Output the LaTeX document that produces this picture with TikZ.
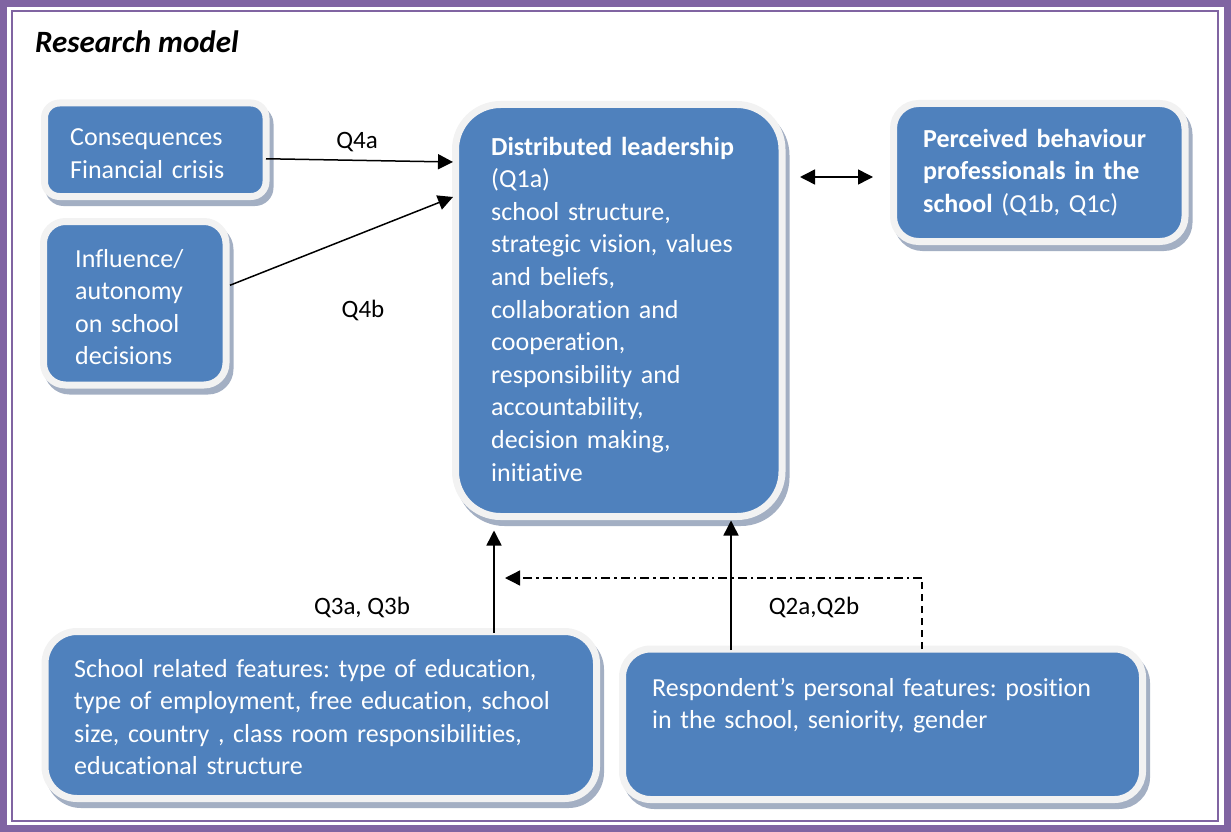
\documentclass[tikz,border=0pt]{standalone}
\usepackage{fontspec}
\setmainfont[Ligatures=NoCommon]{Carlito}
\usetikzlibrary{arrows.meta,shadows,calc}
\definecolor{boxblue}{HTML}{4F81BD}
\definecolor{rimgray}{HTML}{F2F2F2}
\definecolor{shadowfill}{HTML}{A3AFC3}
\definecolor{framepurple}{HTML}{8064A2}
\frenchspacing
\begin{document}
\begin{tikzpicture}[x=1pt,y=-1pt,
  box/.style={rectangle, fill=boxblue, draw=rimgray, line width=7pt, inner sep=0pt, outer sep=0pt,
    general shadow={shadow xshift=4pt, shadow yshift=-6pt, fill=shadowfill, draw=shadowfill, line width=7pt}},
  txt/.style={text=white, font=\fontsize{26}{32.6}\selectfont, align=left, inner sep=0pt, anchor=base west},
  lbl/.style={text=black, font=\fontsize{25}{30}\selectfont, inner sep=0pt},
  arr/.style={line width=1.5pt, -{Triangle[length=15pt,width=15pt]}},
  darr/.style={line width=1.5pt, {Triangle[length=15pt,width=15pt]}-{Triangle[length=15pt,width=15pt]}},
  dashdot/.style={line width=1.3pt, dash pattern=on 9pt off 4pt on 2.5pt off 4pt, -{Triangle[length=15pt,width=15pt]}},
  vdash/.style={line width=1.3pt, dash pattern=on 7pt off 5pt}
]
\useasboundingbox (0,0) rectangle (1231,832);
% frame
\draw[framepurple, line width=7pt] (3.5,3.5) rectangle (1227,828.5);
\draw[framepurple, line width=2pt] (11.5,11.5) rectangle (1218,821);

% title
\node[font=\fontsize{31}{36}\selectfont\bfseries\itshape, anchor=base west, inner sep=0pt] (title) at (35,53) {Research model};

% boxes
\node[box, minimum width=221.5pt, minimum height=93.5pt, rounded corners=15pt] (cons) at (155.25,149.75) {};
\node[box, minimum width=182.5pt, minimum height=163.5pt, rounded corners=22pt] (inf) at (134.75,303.25) {};
\node[box, minimum width=326.5pt, minimum height=412pt, rounded corners=45pt] (dist) at (618.75,310.5) {};
\node[box, minimum width=291.5pt, minimum height=138pt, rounded corners=25pt] (perc) at (1039.25,172.5) {};
\node[box, minimum width=551.5pt, minimum height=167pt, rounded corners=32pt] (school) at (320.75,715) {};
\node[box, minimum width=520pt, minimum height=150.5pt, rounded corners=28pt] (resp) at (882.5,724.25) {};

% texts
\node[txt, text width=200pt] (consT) at (70,146) {Consequences\\Financial crisis};
\node[txt, text width=160pt] (infT) at (75,267) {Influence/\\autonomy\\on school\\decisions};
\node[txt, text width=300pt] (distT) at (491,155) {\textbf{Distributed leadership}\\(Q1a)\\school structure,\\strategic vision, values\\and beliefs,\\collaboration and\\cooperation,\\responsibility and\\accountability,\\decision making,\\initiative};
\node[txt, text width=260pt] (percT) at (923,147) {\textbf{Perceived behaviour}\\\textbf{professionals in the}\\\textbf{school} (Q1b, Q1c)};
\node[txt, text width=520pt] (schoolT) at (74,677) {School related features: type of education,\\type of employment, free education, school\\size, country , class room responsibilities,\\educational structure};
\node[txt, text width=480pt] (respT) at (652,696) {Respondent’s personal features: position\\in the school, seniority, gender};

% connectors
\draw[arr] ($(cons.east)+(0,9)$) -- ($(dist.west)+(-2.5,-148.5)$);
\draw[arr] ($(inf.east)+(4,-18)$) -- ($(dist.west)+(-2.5,-113.5)$);
\draw[darr] ($(dist.east)+(18,-133.5)$) -- ($(perc.west)+(-20.5,4.5)$);
\draw[arr] ($(school.north)+(173.25,1)$) -- ($(dist.south)+(-124.75,14)$);
\draw[arr] ($(resp.north)+(-151.5,1)$) -- ($(dist.south)+(112.25,4)$);
\coordinate (corner) at ($(resp.north)+(39.5,-71)$);
\coordinate (q2tip) at ($(dist.south)+(-113.75,61.5)$);
\draw[vdash] ($(resp.north)+(39.5,0)$) -- (corner);
\draw[dashdot] (corner) -- (q2tip);

% labels
\node[lbl] (q4a) at (357,142) {Q4a};
\node[lbl] (q4b) at (363,310) {Q4b};
\node[lbl] (q3) at (362,607) {Q3a, Q3b};
\node[lbl] (q2) at (814,607) {Q2a,Q2b};
\end{tikzpicture}
\end{document}
